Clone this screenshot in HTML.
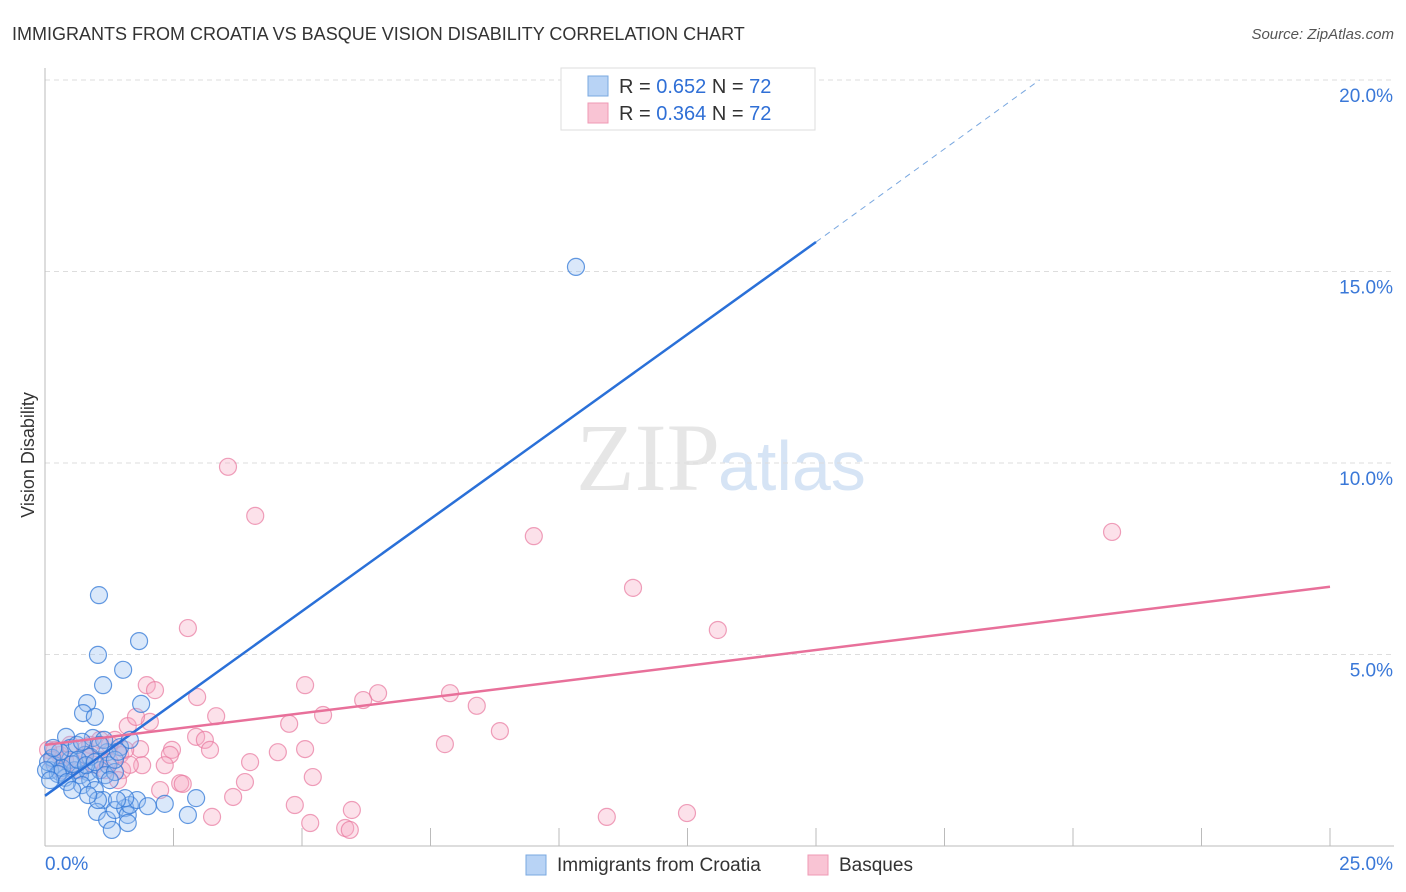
<!DOCTYPE html>
<html><head><meta charset="utf-8"><style>
body{margin:0;background:#fff;font-family:"Liberation Sans",sans-serif;}
svg{display:block}
</style></head><body>
<svg id="chart" width="1406" height="892" xmlns="http://www.w3.org/2000/svg">
<text x="12" y="40" font-size="18" fill="#333">IMMIGRANTS FROM CROATIA VS BASQUE VISION DISABILITY CORRELATION CHART</text>
<text x="1394" y="39" font-size="15" fill="#555" font-style="italic" text-anchor="end">Source: ZipAtlas.com</text>
<text x="720" y="490" font-size="96" fill="#e6e6e6" font-family="Liberation Serif,serif" text-anchor="end">ZIP</text>
<text x="718" y="490" font-size="70" fill="#d6e4f5">atlas</text>
<text transform="translate(34,455) rotate(-90)" font-size="18" fill="#333" text-anchor="middle">Vision Disability</text>
<g id="grid"></g><g id="pts"></g><g id="lines"></g>
<g>
<rect x="561" y="68" width="254" height="62" fill="#fff" stroke="#ddd"/>
<rect x="588" y="76" width="20" height="20" fill="#b8d3f5" stroke="#7aa8e0"/>
<rect x="588" y="103" width="20" height="20" fill="#f9c4d4" stroke="#ef9ab5"/>
<text x="619" y="93" font-size="20" fill="#333">R = <tspan fill="#2f6fd6">0.652</tspan>   N = <tspan fill="#2f6fd6">72</tspan></text>
<text x="619" y="120" font-size="20" fill="#333">R = <tspan fill="#2f6fd6">0.364</tspan>   N = <tspan fill="#2f6fd6">72</tspan></text>
</g>
<g>
<rect x="526" y="855" width="20" height="20" fill="#b8d3f5" stroke="#7aa8e0"/>
<text x="557" y="871" font-size="19" fill="#333">Immigrants from Croatia</text>
<rect x="808" y="855" width="20" height="20" fill="#f9c4d4" stroke="#ef9ab5"/>
<text x="839" y="871" font-size="19" fill="#333">Basques</text>
</g>
</svg>
<script>
const yTicks=[5,10,15,20];
const yTickLabels=["5.0%","10.0%","15.0%","20.0%"];
const xTickLabels=["0.0%","25.0%"];
const blueX=[10.33,1.05,1.83,1.03,1.52,1.13,0.82,1.87,0.74,0.97,0.41,0.93,1.46,1.21,0.78,0.49,0.19,0.10,0.29,0.58,0.84,1.07,1.23,0.39,0.68,0.88,1.17,1.36,0.14,0.33,0.53,0.06,0.25,0.72,0.97,1.13,1.01,1.21,1.30,1.03,1.36,1.56,1.61,1.65,1.61,1.79,2.00,2.33,2.78,2.94,1.56,1.40,0.49,0.62,0.72,0.88,1.26,1.15,1.36,0.29,0.16,0.43,0.64,0.80,0.97,1.07,1.42,1.65,0.53,0.84,0.02,0.10];
const blueY=[15.12,6.55,5.35,4.99,4.60,4.20,3.73,3.71,3.47,3.37,2.85,2.82,2.58,2.45,2.38,2.25,2.11,1.98,1.93,1.98,1.93,1.98,2.11,1.78,1.85,1.72,1.85,1.93,2.30,2.04,2.14,2.19,1.88,1.59,1.46,1.20,0.89,0.68,0.42,1.20,0.94,0.99,0.81,1.07,0.60,1.20,1.04,1.10,0.81,1.25,1.25,1.20,2.56,2.64,2.72,2.33,1.72,2.77,2.25,2.46,2.56,1.67,2.25,2.11,2.19,2.64,2.46,2.77,1.46,1.33,1.98,1.72];
const pinkX=[3.56,4.09,9.51,20.76,11.44,13.09,2.78,1.98,2.14,2.96,5.06,6.48,7.88,6.19,8.40,3.33,2.04,5.41,4.75,1.61,1.77,8.85,2.94,3.11,7.78,5.06,4.53,3.21,2.47,1.85,2.43,1.07,1.46,1.89,2.33,3.99,1.50,1.42,5.21,3.89,2.63,2.68,2.24,3.66,4.86,5.97,5.16,3.25,10.93,12.49,5.84,5.93,1.07,0.78,0.97,1.26,0.29,0.49,0.58,0.19,0.39,0.68,0.88,1.17,1.36,1.56,0.06,0.14,0.33,1.65,1.26,0.78];
const pinkY=[9.90,8.62,8.09,8.20,6.74,5.64,5.69,4.20,4.07,3.89,4.20,3.99,3.99,3.81,3.66,3.39,3.24,3.42,3.19,3.13,3.37,3.00,2.85,2.77,2.66,2.53,2.45,2.51,2.51,2.53,2.38,2.77,2.38,2.11,2.11,2.19,1.98,1.72,1.80,1.67,1.64,1.62,1.46,1.28,1.07,0.94,0.60,0.76,0.76,0.86,0.47,0.42,2.25,2.51,2.12,2.64,2.38,2.64,2.12,2.51,2.25,1.98,2.64,1.98,2.77,2.51,2.51,2.25,1.98,2.12,2.19,2.38];
const blueTrend=[[0,1.31],[15,15.77]];
const blueTrendExt=[[15,15.77],[19.35,20]];
const pinkTrend=[[0,2.64],[25,6.77]];
const NS="http://www.w3.org/2000/svg";
const X=v=>45+v*51.4, Y=v=>846-v*38.3;
function mk(t,a,p){const e=document.createElementNS(NS,t);for(const k in a)e.setAttribute(k,a[k]);p.appendChild(e);return e;}
const grid=document.getElementById('grid');
yTicks.forEach((t,i)=>{
 const l=mk('line',{x1:45,x2:1394,y1:Y(t),y2:Y(t),stroke:'#ddd','stroke-dasharray':'5,4'},grid);
 
 
 const tx=mk('text',{x:1393,y:Y(t)+22,'font-size':19,fill:'#3a78d8','text-anchor':'end'},grid);
 tx.textContent=yTickLabels[i];
 
 
});
mk('line',{x1:45,x2:45,y1:68,y2:846,stroke:'#bbb'},grid);
mk('line',{x1:45,x2:1394,y1:846,y2:846,stroke:'#bbb'},grid);
for(let i=1;i<=10;i++){const l=mk('line',{x1:X(i*2.5),x2:X(i*2.5),y1:828,y2:846,stroke:'#bbb'},grid);
 
 }
const x0=mk('text',{x:45,y:870,'font-size':19,fill:'#3a78d8'},grid);x0.textContent=xTickLabels[0];


const x1=mk('text',{x:1393,y:870,'font-size':19,fill:'#3a78d8','text-anchor':'end'},grid);x1.textContent=xTickLabels[1];


const pts=document.getElementById('pts');
pinkX.forEach((v,i)=>{const c=mk('circle',{cx:X(v),cy:Y(pinkY[i]),r:8.5,fill:'rgba(246,170,195,0.35)',stroke:'rgba(232,120,158,0.7)','stroke-width':1.2},pts);
 
 });
blueX.forEach((v,i)=>{const c=mk('circle',{cx:X(v),cy:Y(blueY[i]),r:8.5,fill:'rgba(150,190,240,0.35)',stroke:'rgba(50,120,215,0.75)','stroke-width':1.2},pts);
 
 });
const ln=document.getElementById('lines');
function seg(p,st,dash,name){const l=mk('line',{x1:X(p[0][0]),y1:Y(p[0][1]),x2:X(p[1][0]),y2:Y(p[1][1]),stroke:st,'stroke-width':dash?1:2.5},ln);
 if(dash)l.setAttribute('stroke-dasharray','6,5');
 
 }
seg(blueTrend,'#2a70d8',false,'trend-line-croatia');
seg(blueTrendExt,'#7aa8e0',true,'trend-line-croatia-extension');
seg(pinkTrend,'#e8709a',false,'trend-line-basques');
</script>
</body></html>
